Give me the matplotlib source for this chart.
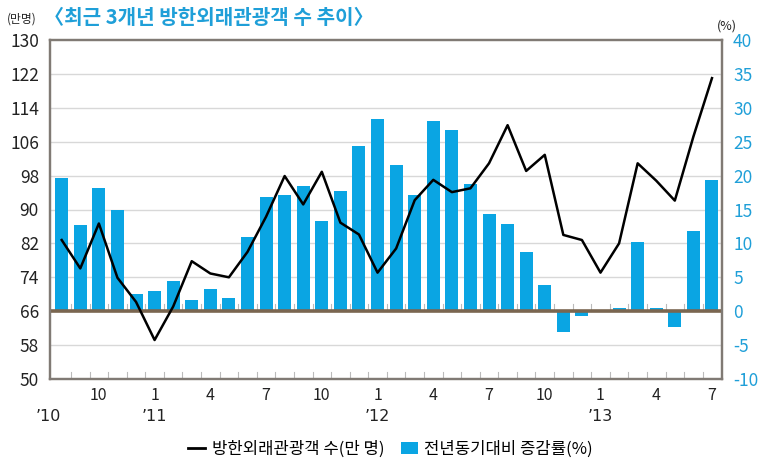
import matplotlib
matplotlib.use("Agg")
import matplotlib.pyplot as plt
import numpy as np
from matplotlib.lines import Line2D
from matplotlib.patches import Patch

plt.rcParams['font.family'] = ['Noto Sans CJK KR', 'DejaVu Sans']

# Monthly data, Aug 2010 .. Jul 2013
visitors = [82.8, 76.1, 86.7, 73.9, 68.2,
            59.2, 67.1, 77.8, 74.9, 74.0, 80.0, 88.3, 97.9, 91.2, 98.9, 86.9, 84.1,
            75.1, 80.8, 92.2, 97.0, 94.1, 95.0, 100.9, 109.9, 99.1, 102.9, 84.0, 82.8,
            75.1, 82.0, 100.9, 96.8, 92.1, 107.2, 121.0]
growth = [19.7, 12.7, 18.2, 14.9, 2.5,
          3.0, 4.5, 1.6, 3.3, 2.0, 10.9, 16.9, 17.1, 18.5, 13.3, 17.7, 24.3,
          28.4, 21.5, 17.2, 28.1, 26.7, 18.8, 14.4, 12.8, 8.8, 3.8, -3.0, -0.7,
          0.0, 0.5, 10.2, 0.5, -2.4, 11.8, 19.3]
month_labels = ['10', '1', '4', '7', '10', '1', '4', '7', '10', '1', '4', '7']
month_label_idx = [2, 5, 8, 11, 14, 17, 20, 23, 26, 29, 32, 35]
year_labels = ['\u201910', '\u201911', '\u201912', '\u201913']
year_label_idx = [-0.7, 5, 17, 29]
left_ticks = [50, 58, 66, 74, 82, 90, 98, 106, 114, 122, 130]
right_ticks = [-10, -5, 0, 5, 10, 15, 20, 25, 30, 35, 40]

BLUE = '#0aa5e3'
TBLUE = '#1f9fd8'
SPINE = '#807a74'

fig = plt.figure(figsize=(7.69, 4.63), dpi=100)
ax2 = fig.add_axes([50/769, 1-379/463, 672/769, 339/463])  # bars (right axis)
ax = ax2.twinx()
ax.yaxis.tick_left()
ax2.yaxis.tick_right()

x = np.arange(len(growth))
ax2.set_xlim(-0.63, 35.54)
ax2.set_ylim(-10, 40)
ax.set_ylim(50, 130)

for t in left_ticks[1:-1]:
    ax2.axhline((t - 66) * 5 / 8, color='#d8d8d8', lw=1.0, zorder=0)

ax2.bar(x, growth, width=0.7, color=BLUE, zorder=2)
ax2.axhline(0, color='#7a6650', lw=2.6, zorder=3)
ax.plot(x, visitors, color='black', lw=1.8, zorder=4)

for b in np.arange(0.5, 35.5, 1.0):
    ax2.plot([b, b], [-10, -9.0], color='#bbbbbb', lw=0.8, zorder=1)
    ax2.plot([b, b], [0, 1.0], color='#bbbbbb', lw=0.8, zorder=1)

ax.set_yticks(left_ticks)
ax.set_yticklabels([str(v) for v in left_ticks], fontsize=12.5, color='#222222')
ax2.set_yticks(right_ticks)
ax2.set_yticklabels([str(v) for v in right_ticks], fontsize=12.5, color=TBLUE)
ax.tick_params(axis='y', length=0, pad=8)
ax2.tick_params(axis='y', length=0, pad=8)

ax2.set_xticks(month_label_idx)
ax2.set_xticklabels(month_labels, fontsize=11.5, color='#222222')
ax2.tick_params(axis='x', length=0, pad=6)
for i, lab in zip(year_label_idx, year_labels):
    ax2.text(i, -15.5, lab, ha='center', va='center',
             fontsize=11.5, color='#222222', family=['DejaVu Sans'])

for a in (ax, ax2):
    for s in a.spines.values():
        s.set_color(SPINE)
        s.set_linewidth(1.6)

fig.text(7/769, 1-19/463, '(만명)', fontsize=8.5, color='#222222', va='center')
fig.text(44/769, 1-18/463, '〈최근 3개년 방한외래관광객 수 추이〉', fontsize=14.5,
         color=TBLUE, fontweight='bold', va='center')
fig.text(727/769, 1-26/463, '(%)', fontsize=9, color='#222222', va='center', ha='center')

handles = [Line2D([0], [0], color='black', lw=2),
           Patch(facecolor=BLUE)]
fig.legend(handles, ['방한외래관광객 수(만 명)', '전년동기대비 증감률(%)'],
           loc='center', bbox_to_anchor=(0.508, 1-449/463), ncol=2, frameon=False,
           fontsize=12, handlelength=1.0, handleheight=0.7, columnspacing=1.0,
           handletextpad=0.4)

fig.savefig('out.png', dpi=100)
